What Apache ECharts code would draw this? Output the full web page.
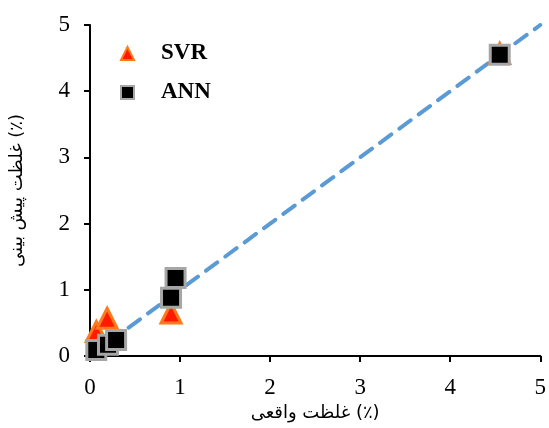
<!DOCTYPE html>
<html><head><meta charset="utf-8">
<script src="https://cdn.jsdelivr.net/npm/echarts@6/dist/echarts.min.js"></script>
<style>html,body{margin:0;padding:0;background:#fff}#c{width:549px;height:428px}</style>
</head><body><div id="c"></div>
<script>
const axisTicks = [0, 1, 2, 3, 4, 5];
const svrActual = [0.07, 0.19, 0.9, 4.55];
const svrPred   = [0.37, 0.57, 0.65, 4.57];
const annActual = [0.07, 0.2, 0.29, 0.9, 0.95, 4.55];
const annPred   = [0.09, 0.17, 0.24, 0.88, 1.18, 4.55];
const refLine   = [0, 5];

const chart = echarts.init(document.getElementById('c'));
const serif = '"Liberation Serif", "Times New Roman", serif';
const arab = '"DejaVu Sans", sans-serif';
chart.setOption({
  animation: false,
  grid: { left: 90, right: 6, top: 25, bottom: 72 },
  xAxis: {
    type: 'value', min: axisTicks[0], max: axisTicks[axisTicks.length-1], interval: 1,
    axisLine: { lineStyle: { color: '#000', width: 2 } },
    axisTick: { show: true, length: 6, lineStyle: { color: '#000', width: 2 } },
    splitLine: { show: false },
    axisLabel: { color: '#000', fontFamily: serif, fontSize: 23, margin: 20 },
    name: 'غلظت واقعی (٪)', nameLocation: 'middle', nameGap: 48,
    nameTextStyle: { color: '#000', fontFamily: arab, fontSize: 18 }
  },
  yAxis: {
    type: 'value', min: axisTicks[0], max: axisTicks[axisTicks.length-1], interval: 1,
    axisLine: { show: true, lineStyle: { color: '#000', width: 2 } },
    axisTick: { show: true, length: 6, lineStyle: { color: '#000', width: 2 } },
    splitLine: { show: false },
    axisLabel: { color: '#000', fontFamily: serif, fontSize: 23, margin: 20 },
    name: 'غلظت پیش بینی (٪)', nameLocation: 'middle', nameGap: 64,
    nameTextStyle: { color: '#000', fontFamily: arab, fontSize: 18 }
  },
  legend: {
    orient: 'vertical', left: 115, top: 37, itemGap: 16,
    itemWidth: 13, itemHeight: 13,
    textStyle: { color: '#000', fontFamily: serif, fontSize: 23, fontWeight: 'bold', padding: [0,0,0,22] },
    data: [
      { name: 'SVR', icon: 'triangle' },
      { name: 'ANN', icon: 'rect' }
    ]
  },
  series: [
    {
      type: 'line', name: 'ref', data: refLine.map(v => [v, v]), symbol: 'none',
      lineStyle: { color: '#5B9BD5', width: 4, type: [14, 10], cap: 'round' }, z: 1, silent: true
    },
    {
      type: 'scatter', name: 'SVR', symbol: 'triangle', symbolSize: 20,
      data: svrActual.map((x, i) => [x, svrPred[i]]),
      itemStyle: { color: '#FF1A00', borderColor: '#FF7A1A', borderWidth: 3, opacity: 1 }, z: 2
    },
    {
      type: 'scatter', name: 'ANN', symbol: 'rect', symbolSize: 19,
      data: annActual.map((x, i) => [x, annPred[i]]),
      itemStyle: { color: '#000', borderColor: '#A6A6A6', borderWidth: 3, opacity: 1 }, z: 3
    }
  ]
});
</script></body></html>
